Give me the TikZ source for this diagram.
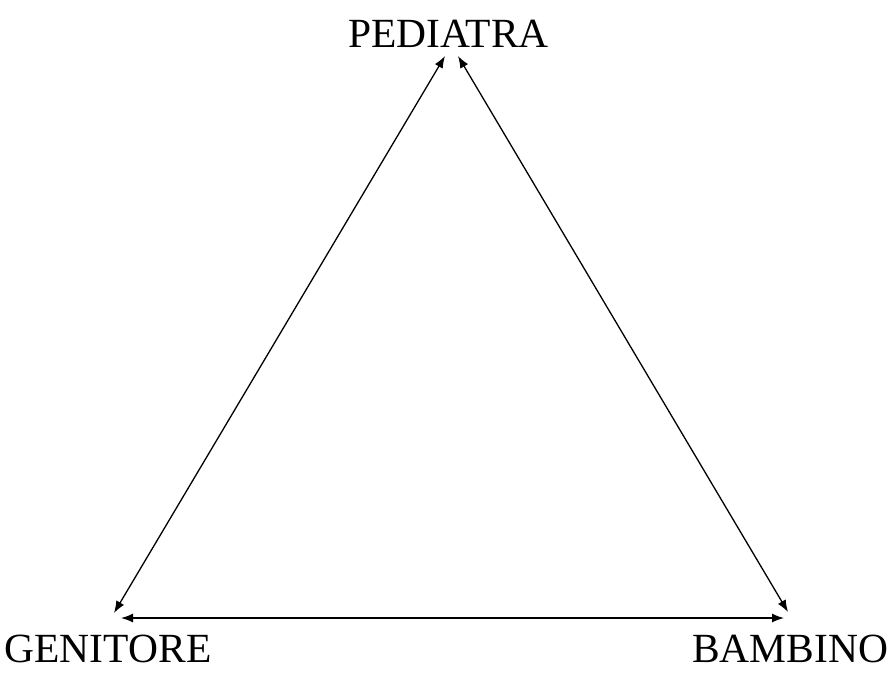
\documentclass[tikz,border=0pt]{standalone}
\usepackage{fontspec}
\setmainfont{Liberation Serif}
\usetikzlibrary{arrows.meta}
\begin{document}
\begin{tikzpicture}[x=1pt,y=-1pt,
  lbl/.style={inner sep=0pt,anchor=base,font=\fontsize{41.5}{48}\selectfont},
  rel/.style={line width=1.3pt,{Latex[length=12pt,width=9pt]}-{Latex[length=12pt,width=9pt]}}]
\useasboundingbox (0,0) rectangle (890,672);
\node[lbl] (ped) at (448.5,47) {PEDIATRA};
\node[lbl] (gen) at (108,662) {GENITORE};
\node[lbl] (bam) at (790,662) {BAMBINO};
\coordinate (pl) at (445,56);
\coordinate (pr) at (458,56);
\coordinate (gt) at (114,613);
\coordinate (gr) at (121,618);
\coordinate (bt) at (788,612);
\coordinate (bl) at (784,618);
\draw[rel] (gt) -- (pl);
\draw[rel] (pr) -- (bt);
\draw[rel] (gr) -- (bl);
\end{tikzpicture}
\end{document}
